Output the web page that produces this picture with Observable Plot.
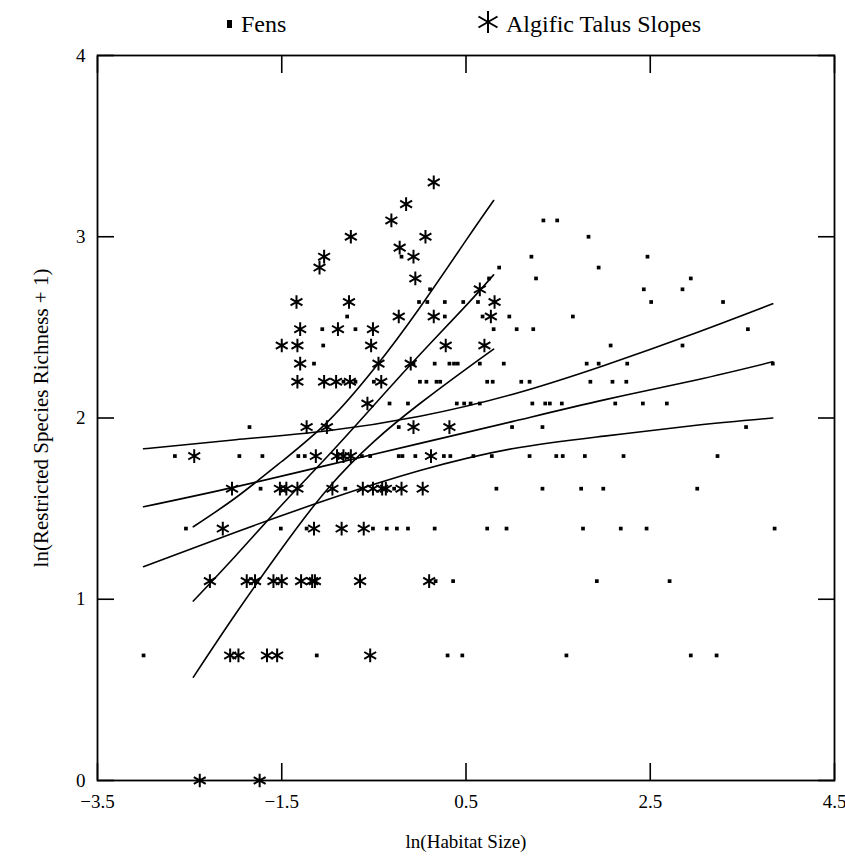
<!DOCTYPE html>
<html><head><meta charset="utf-8">
<script src="https://cdn.jsdelivr.net/npm/d3@7"></script>
<script src="https://cdn.jsdelivr.net/npm/@observablehq/plot@0.6"></script>
<style>
body{margin:0;background:#fff;font-family:"Liberation Serif","Times New Roman",serif;}
#legend{position:relative;height:45px;width:845px;font-size:24px;color:#000;}
#legend .it{position:absolute;top:10px;line-height:28px;}
#legend .sq{position:absolute;left:227px;top:20px;width:5px;height:8px;background:#000;}
#legend svg{position:absolute;left:475px;top:9px;}
</style></head><body>
<div id="legend">
  <span class="sq"></span><span class="it" style="left:241px">Fens</span>
  <svg width="26" height="26"><g stroke="#000" stroke-width="2"><path d="M13,2L13,24"/><path d="M3.5,7.5L22.5,18.5"/><path d="M3.5,18.5L22.5,7.5"/></g></svg>
  <span class="it" style="left:506px">Algific Talus Slopes</span>
</div>
<div id="chart"></div>
<script>
const xTicks = [-3.5, -1.5, 0.5, 2.5, 4.5];
const yTicks = [0, 1, 2, 3, 4];

// Fens: [ln(habitat size), ln(richness+1)]
const fens = [
  [-3.0,0.69],[-1.12,0.69],[0.30,0.69],[0.46,0.69],[1.59,0.69],[2.94,0.69],[3.22,0.69],
  [0.17,1.10],[0.36,1.10],[1.92,1.10],[2.71,1.10],
  [-2.54,1.39],[-1.51,1.39],[-1.23,1.39],[-0.51,1.39],[-0.36,1.39],[-0.25,1.39],[-0.13,1.39],[0.16,1.39],[0.73,1.39],[0.94,1.39],[1.77,1.39],[2.18,1.39],[2.46,1.39],[3.85,1.39],
  [-1.73,1.61],[-0.81,1.61],[-0.28,1.61],[0.83,1.61],[1.33,1.61],[1.75,1.61],[1.99,1.61],[3.01,1.61],
  [-2.66,1.79],[-1.96,1.79],[-1.71,1.79],[-1.32,1.79],[-1.25,1.79],[-0.63,1.79],[-0.54,1.79],[-0.23,1.79],[-0.19,1.79],[-0.05,1.79],[0.26,1.79],[0.33,1.79],[0.58,1.79],[0.78,1.79],[1.19,1.79],[1.48,1.79],[1.55,1.79],[1.79,1.79],[2.21,1.79],[3.23,1.79],
  [-1.85,1.95],[-0.23,1.95],[1.00,1.95],[1.33,1.95],[3.54,1.95],
  [-0.33,2.08],[-0.13,2.08],[0.40,2.08],[0.48,2.08],[0.55,2.08],[0.65,2.08],[1.22,2.08],[1.36,2.08],[1.41,2.08],[1.54,2.08],[2.12,2.08],[2.42,2.08],[2.68,2.08],
  [-0.83,2.20],[-0.70,2.20],[-0.50,2.20],[0.00,2.20],[0.07,2.20],[0.18,2.20],[0.22,2.20],[0.73,2.20],[0.79,2.20],[1.10,2.20],[1.19,2.20],[1.85,2.20],[2.09,2.20],[2.24,2.20],
  [-1.15,2.30],[-0.07,2.30],[0.16,2.30],[0.32,2.30],[0.37,2.30],[0.41,2.30],[0.65,2.30],[0.91,2.30],[1.81,2.30],[1.94,2.30],[2.25,2.30],[3.83,2.30],
  [-1.05,2.40],[2.07,2.40],[2.85,2.40],
  [-1.06,2.49],[-0.70,2.49],[0.80,2.49],[1.05,2.49],[1.23,2.49],[3.56,2.49],
  [-0.79,2.56],[0.27,2.56],[0.68,2.56],[0.97,2.56],[1.66,2.56],
  [-0.01,2.64],[0.08,2.64],[0.27,2.64],[0.47,2.64],[0.63,2.64],[2.51,2.64],[3.29,2.64],
  [0.11,2.71],[2.43,2.71],[2.85,2.71],
  [0.75,2.77],[1.26,2.77],[2.94,2.77],
  [0.86,2.83],[1.94,2.83],
  [-0.20,2.89],[1.21,2.89],[2.47,2.89],
  [1.83,3.00],
  [1.34,3.09],[1.49,3.09]
];

// Algific talus slopes
const algific = [
  [-2.39,0],[-1.74,0],
  [-2.06,0.69],[-1.97,0.69],[-1.66,0.69],[-1.55,0.69],[-0.54,0.69],
  [-2.28,1.10],[-1.88,1.10],[-1.79,1.10],[-1.59,1.10],[-1.50,1.10],[-1.29,1.10],[-1.17,1.10],[-1.14,1.10],[-0.65,1.10],[0.10,1.10],
  [-2.14,1.39],[-1.15,1.39],[-0.85,1.39],[-0.61,1.39],
  [-2.04,1.61],[-1.52,1.61],[-1.45,1.61],[-1.33,1.61],[-0.95,1.61],[-0.62,1.61],[-0.51,1.61],[-0.41,1.61],[-0.37,1.61],[-0.20,1.61],[0.03,1.61],
  [-2.45,1.79],[-1.13,1.79],[-0.90,1.79],[-0.83,1.79],[-0.75,1.79],[0.12,1.79],
  [-1.23,1.95],[-1.01,1.95],[-0.07,1.95],[0.32,1.95],
  [-0.57,2.08],
  [-1.33,2.20],[-1.04,2.20],[-0.91,2.20],[-0.76,2.20],[-0.42,2.20],
  [-1.30,2.30],[-0.45,2.30],[-0.10,2.30],
  [-1.50,2.40],[-1.33,2.40],[-0.53,2.40],[0.28,2.40],[0.70,2.40],
  [-1.30,2.49],[-0.89,2.49],[-0.51,2.49],
  [-0.23,2.56],[0.15,2.56],[0.77,2.56],
  [-1.34,2.64],[-0.77,2.64],[0.81,2.64],
  [0.65,2.71],
  [-0.05,2.77],
  [-1.09,2.83],
  [-1.04,2.89],[-0.07,2.89],
  [-0.22,2.94],
  [-0.75,3.00],[0.06,3.00],
  [-0.31,3.09],
  [-0.15,3.18],
  [0.15,3.30]
];

// Fitted lines with confidence bands
const algificLineX = [-2.46, -2.0, -1.5, -1.0, -0.5, 0, 0.5, 0.8];
const algificFit   = [0.99, 1.24, 1.52, 1.79, 2.07, 2.35, 2.62, 2.79];
const algificUpper = [1.40, 1.56, 1.76, 1.98, 2.27, 2.61, 2.98, 3.20];
const algificLower = [0.57, 0.92, 1.28, 1.61, 1.87, 2.08, 2.27, 2.38];

const fensLineX = [-3.0, -2.0, -1.0, 0, 1.0, 2.0, 3.0, 3.83];
const fensFit   = [1.51, 1.62, 1.74, 1.86, 1.98, 2.10, 2.21, 2.31];
const fensUpper = [1.83, 1.88, 1.93, 2.01, 2.13, 2.29, 2.47, 2.63];
const fensLower = [1.18, 1.37, 1.55, 1.71, 1.83, 1.90, 1.96, 2.00];

const lineStyle = {curve: "natural", stroke: "black", strokeWidth: 1.6};
const curve = (xs, ys) => Plot.line(xs, {x: xs, y: ys, ...lineStyle});

const chart = Plot.plot({
  width: 845,
  height: 820,
  marginLeft: 97,
  marginRight: 11,
  marginTop: 10,
  marginBottom: 85,
  style: {fontFamily: "'Liberation Serif', 'Times New Roman', serif", fontSize: "19px", color: "black", background: "white", overflow: "visible"},
  x: {domain: [-3.5, 4.5]},
  y: {domain: [0, 4]},
  marks: [
    Plot.frame({stroke: "black", strokeWidth: 1.8}),
    Plot.axisX(xTicks, {anchor: "bottom", tickSize: -17, tickFormat: () => "", label: null, strokeWidth: 1.6}),
    Plot.axisX(xTicks, {anchor: "top", tickSize: -17, tickFormat: () => "", label: null, strokeWidth: 1.6}),
    Plot.axisY(yTicks, {anchor: "left", tickSize: -17, tickFormat: () => "", label: null, strokeWidth: 1.6}),
    Plot.axisY(yTicks, {anchor: "right", tickSize: -17, tickFormat: () => "", label: null, strokeWidth: 1.6}),
    Plot.axisX(xTicks, {anchor: "bottom", tickSize: 0, tickPadding: 14, fontSize: 19, tickFormat: d3.format(".1f"), label: "ln(Habitat Size)", labelAnchor: "center", labelArrow: "none", labelOffset: 67}),
    Plot.axisY(yTicks, {anchor: "left", tickSize: 0, tickPadding: 12, fontSize: 19, tickFormat: d3.format("d")}),
    Plot.axisY(yTicks, {anchor: "left", tickSize: 0, tickFormat: () => "", fontSize: 21, label: "ln(Restricted Species Richness + 1)", labelAnchor: "center", labelArrow: "none", labelOffset: 64}),
    curve(fensLineX, fensFit),
    curve(fensLineX, fensUpper),
    curve(fensLineX, fensLower),
    curve(algificLineX, algificFit),
    curve(algificLineX, algificUpper),
    curve(algificLineX, algificLower),
    Plot.dot(fens, {x: d => d[0], y: d => d[1], symbol: "square", r: 2.1, fill: "black", stroke: "none"}),
    Plot.dot(algific, {x: d => d[0], y: d => d[1], symbol: "asterisk", r: 6.5, stroke: "black", strokeWidth: 2})
  ]
});
document.getElementById("chart").appendChild(chart);
</script>
</body></html>
